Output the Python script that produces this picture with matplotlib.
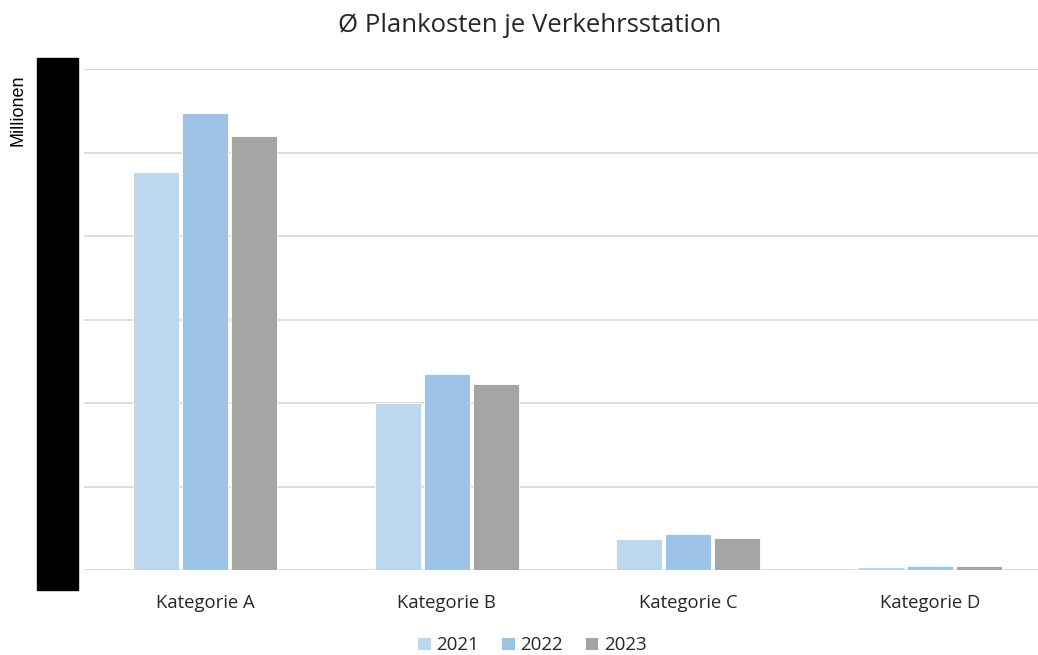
import numpy as np
import matplotlib
matplotlib.use("Agg")
import matplotlib.pyplot as plt
from matplotlib.patches import Rectangle

# -------------------------
# Data (Millionen)
# -------------------------
categories = ["Kategorie A", "Kategorie B", "Kategorie C", "Kategorie D"]
years = ["2021", "2022", "2023"]
values_2021 = [4.77, 2.00, 0.37, 0.04]
values_2022 = [5.47, 2.35, 0.43, 0.05]
values_2023 = [5.20, 2.23, 0.38, 0.05]
series = [values_2021, values_2022, values_2023]
colors = ["#BDD7EE", "#9DC3E6", "#A5A5A5"]

plt.rcParams['font.family'] = ['Open Sans', 'DejaVu Sans']

fig = plt.figure(figsize=(10.38, 6.55), dpi=100)
# plot area runs a bit past the right edge, like the source
ax = fig.add_axes([84 / 1038, 1 - 570 / 655, 967 / 1038, 501 / 655])

x = np.arange(len(categories))
bar_w = 0.19
step = 0.203
for i, (vals, col, yr) in enumerate(zip(series, colors, years)):
    ax.bar(x + (i - 1) * step, vals, width=bar_w, color=col, label=yr,
           edgecolor="white", linewidth=0.6, zorder=3)

ax.set_xlim(-0.5, len(categories) - 0.5)
ax.set_ylim(0, 6)
ax.set_yticks(np.arange(0, 7, 1))
ax.yaxis.grid(True, color="#D9D9D9", linewidth=1.3, zorder=0)
ax.tick_params(axis="y", length=0, labelleft=False)
ax.tick_params(axis="x", length=0, labelsize=13.3, pad=17, colors="#262626")
ax.set_xticks(x)
ax.set_xticklabels(categories)
for s in ax.spines.values():
    s.set_visible(False)

fig.text(530 / 1038, 1 - 26 / 655, "Ø Plankosten je Verkehrsstation",
         ha="center", va="center", fontsize=18.5, color="#262626")

# redacted y tick labels
fig.patches.append(Rectangle((37 / 1038, 1 - 590 / 655), 41 / 1038, 532 / 655,
                             transform=fig.transFigure, color="black", zorder=5))
fig.text(18 / 1038, 1 - 75 / 655, "Millionen", rotation=90, ha="center", va="top",
         fontsize=13, family=["Liberation Sans", "DejaVu Sans"])

fig.legend(loc="center", bbox_to_anchor=(532 / 1038, 1 - 645 / 655), ncol=3,
           frameon=False, fontsize=13.5, handlelength=0.7, handleheight=0.7,
           handletextpad=0.3, columnspacing=1.2, labelcolor="#262626")

fig.savefig("out.png", dpi=100)
